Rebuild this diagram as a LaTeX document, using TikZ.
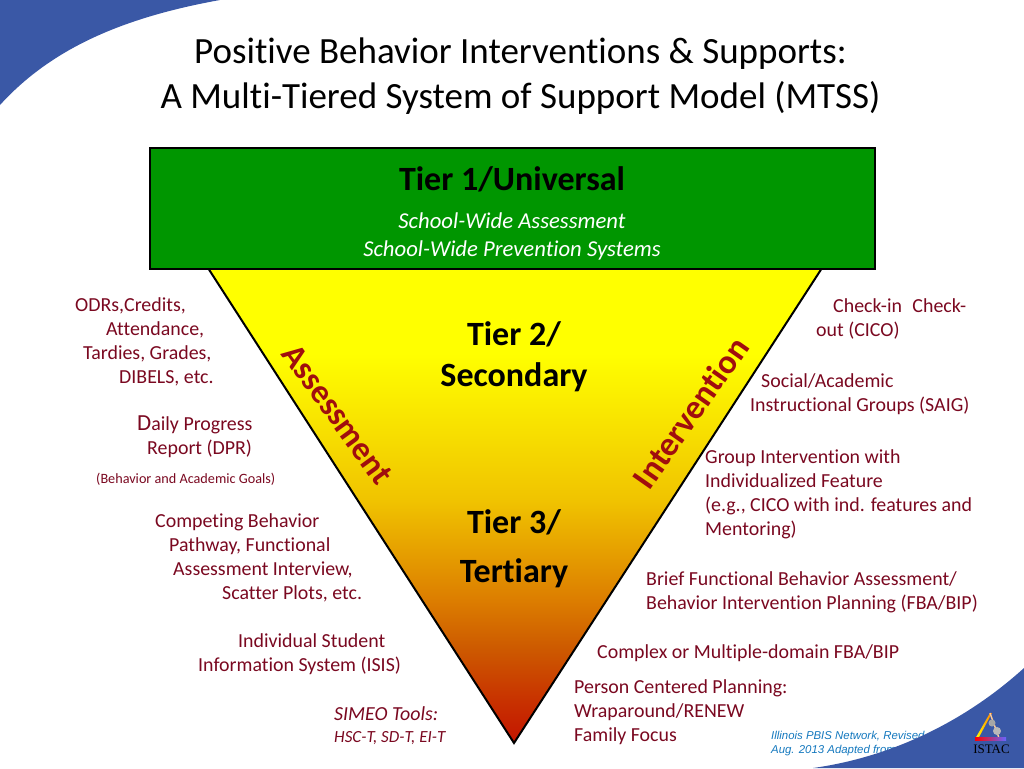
\documentclass[tikz,border=0pt]{standalone}
\usepackage{fontspec}
\setmainfont{Carlito}[Ligatures=NoCommon]
\newfontfamily\notefont{Liberation Sans}
\newfontfamily\logofont{Liberation Serif}
\definecolor{swoosh}{RGB}{58,88,166}
\definecolor{tiergreen}{RGB}{0,150,0}
\definecolor{darkred}{RGB}{122,8,32}
\definecolor{sidered}{RGB}{160,14,14}
\definecolor{noteblue}{RGB}{20,120,190}
\definecolor{shadea}{RGB}{195,20,0}
\definecolor{shadeb}{RGB}{200,50,0}
\definecolor{shadec}{RGB}{205,90,0}
\definecolor{shaded}{RGB}{220,125,0}
\definecolor{shadee}{RGB}{240,195,0}
\definecolor{shadef}{RGB}{255,255,0}
\pgfdeclareverticalshading{tiershade}{100bp}{color(0bp)=(shadea); color(25bp)=(shadea); color(29.5bp)=(shadeb); color(35bp)=(shadec); color(40bp)=(shaded); color(50.5bp)=(shadee); color(66bp)=(shadef); color(100bp)=(shadef)}
\begin{document}
\begin{tikzpicture}[x=1pt,y=-1pt,
 lab/.style={anchor=north west,inner sep=0pt,align=left,text=darkred,font=\fontsize{19.9}{24}\selectfont},
 tier/.style={inner sep=0pt,align=center,font=\fontsize{34}{41}\selectfont\bfseries},
 side/.style={inner sep=0pt,text=sidered,font=\fontsize{34}{40}\selectfont\bfseries}]
\useasboundingbox (0,0) rectangle (1024,768);
% title
\node[inner sep=0pt,align=center,font=\fontsize{37}{45}\selectfont] (title) at (520.5,76) {Positive Behavior Interventions \& Supports:\\A Multi-Tiered System of Support Model (MTSS)};
% corners
\fill[swoosh] (0,0) -- (220,0) .. controls (120,18) and (50,50) .. (0,105) -- cycle;
% triangle and box
\path[shade,shading=tiershade,draw=black,line width=2pt] (208,268) -- (822,268) -- (514,743) -- cycle;
\node[draw=black,line width=2pt,fill=tiergreen,minimum width=725pt,minimum height=121pt,inner sep=0pt] (box) at (512.5,208) {};
\node[tier] (t1) at (512,179) {Tier 1/Universal};
\node[inner sep=0pt,align=center,text=white,font=\fontsize{22.7}{28}\selectfont\itshape] (t1sub) at (512,236.5) {School-Wide Assessment\\School-Wide Prevention Systems};
\node[tier] (t2) at (514,357) {Tier 2/\\Secondary};
\node[tier,font=\fontsize{34}{49}\selectfont\bfseries] (t3) at (514,549) {Tier 3/\\Tertiary};
\node[side,rotate=-54,font=\fontsize{33.5}{40}\selectfont\bfseries] (assess) at (337.5,414.5) {Assessment};
\node[side,rotate=55] (interv) at (690.5,412.5) {Intervention};
% left column
\node[lab] (odr) at (75,297) {ODRs,Credits,\\\hspace*{31pt}Attendance,\\\hspace*{8pt}Tardies, Grades,\\\hspace*{44pt}DIBELS, etc.};
\node[lab] (dpr) at (137,415.5) {{\fontsize{23}{24}\selectfont D}aily Progress\\\hspace*{10pt}Report (DPR)};
\node[lab,font=\fontsize{14.2}{16}\selectfont] (goals) at (96,473) {(Behavior and Academic Goals)};
\node[lab] (cbp) at (155,513) {Competing Behavior\\\hspace*{14pt}Pathway, Functional\\\hspace*{18pt}Assessment Interview,\\\hspace*{67pt}Scatter Plots, etc.};
\node[lab] (isis) at (198,633) {\hspace*{40pt}Individual Student\\Information System (ISIS)};
\node[lab,font=\fontsize{19.9}{24}\selectfont\itshape] (simeo) at (334,706) {SIMEO Tools:};
\node[lab,font=\fontsize{17}{24}\selectfont\itshape] (hsc) at (334,731) {HSC-T, SD-T, EI-T};
% right column
\node[lab] (cico) at (816,298) {\hspace*{17pt}Check-in\hspace{6pt} Check-\\out (CICO)};
\node[lab] (saig) at (750,373) {\hspace*{11pt}Social/Academic\\Instructional Groups (SAIG)};
\node[lab] (group) at (705,449) {Group Intervention with\\Individualized Feature\\(e.g., CICO with ind. features and\\Mentoring)};
\node[lab] (fba) at (646,571) {Brief Functional Behavior Assessment/\\Behavior Intervention Planning (FBA/BIP)};
\node[lab] (cplx) at (597,644) {Complex or Multiple-domain FBA/BIP};
\node[lab] (pcp) at (574,679.5) {Person Centered Planning:\\Wraparound/RENEW\\Family Focus};
% source note, partly under the corner
\node[anchor=north west,inner sep=0pt,align=left,text=noteblue,font=\notefont\fontsize{11.4}{14}\selectfont\itshape] (note) at (771,731) {Illinois PBIS Network, Revised\\Aug. 2013 Adapted from};
\fill[swoosh] (813,768) .. controls (885,758) and (960,726) .. (1024,668) -- (1024,768) -- cycle;
% logo
\shade[left color=yellow,right color=orange] (975,739) -- (990,713) -- (992,713) -- (978,739) -- cycle;
\draw[line width=1.4pt,orange!40!white] (990,713) -- (999,738);
\shade[left color=red,right color=blue!60!white] (975,737) rectangle (1006,740);
\fill[gray!70] (992,723) circle (3.5pt);
\fill[gray!55] (997,731) circle (4pt);
\node[inner sep=0pt,font=\logofont\fontsize{13}{14}\selectfont] (istac) at (991.5,749) {ISTAC};
\end{tikzpicture}
\end{document}
